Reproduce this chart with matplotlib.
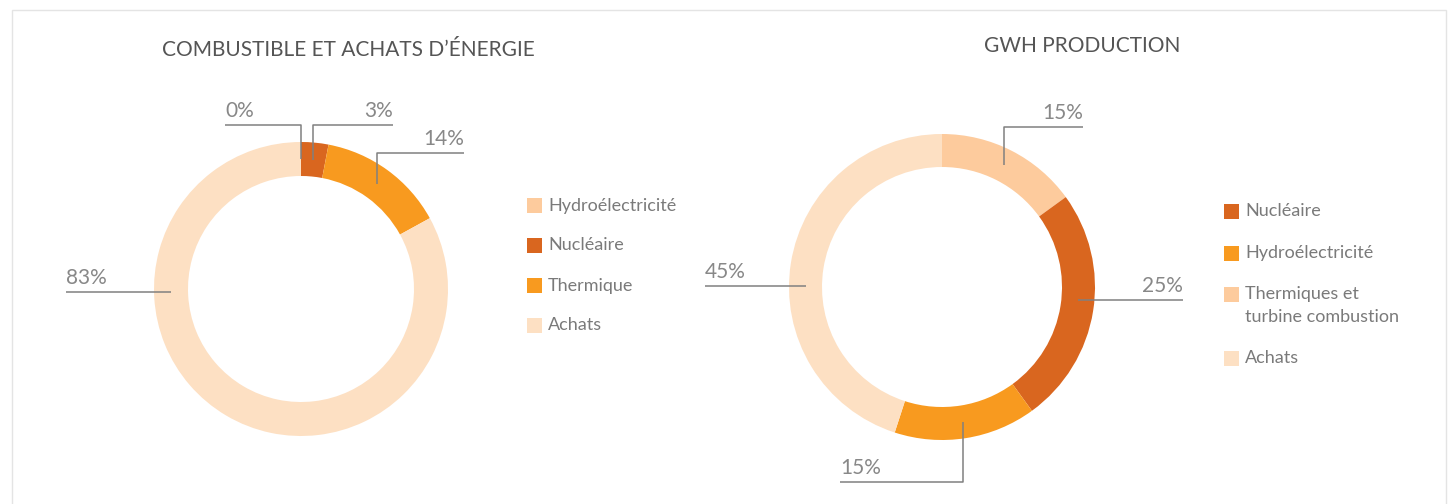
import matplotlib.pyplot as plt
from matplotlib.patches import Rectangle
import numpy as np

# ---- data ----
left_title = "COMBUSTIBLE ET ACHATS D’ÉNERGIE"
left_labels = ['Hydroélectricité', 'Nucléaire', 'Thermique', 'Achats']
left_values = [0, 3, 14, 83]
left_colors = ['#FDCB9D', '#D9661F', '#F89A1F', '#FDE0C3']

right_title = "GWH PRODUCTION"
right_labels = ['Thermiques et\nturbine combustion', 'Nucléaire', 'Hydroélectricité', 'Achats']
right_values = [15, 25, 15, 45]
right_colors = ['#FDCB9D', '#D9661F', '#F89A1F', '#FDE0C3']
right_legend_order = [1, 2, 0, 3]

GREY = '#7a7a7a'
FONT = 'Lato'

# figure in pixel units (1452 x 504), y axis goes up
W, H = 1452, 504
fig = plt.figure(figsize=(W / 100, H / 100), dpi=100)
ax = fig.add_axes([0, 0, 1, 1])

# light frame around the panel
fig.patches.append(Rectangle((12 / W, -0.1), (W - 18) / W, (H - 10) / H + 0.1,
                             transform=fig.transFigure, fill=False,
                             edgecolor='#e4e4e4', lw=1))


def donut(values, colors, center, radius, width):
    wedges, _ = ax.pie(values, colors=colors, startangle=90, counterclock=False,
                       radius=radius, center=center,
                       wedgeprops=dict(width=width, edgecolor='none'))
    return wedges


def callout(wedge, center, rmid, text, route):
    # route: ('v', elbow_y, end_x) or ('h', end_x, angle)
    if route[0] == 'h':
        ang = np.radians(route[2])
    else:
        ang = np.radians((wedge.theta1 + wedge.theta2) / 2)
    x0 = center[0] + rmid * np.cos(ang)
    y0 = center[1] + rmid * np.sin(ang)
    if route[0] == 'v':
        ey, ex = route[1], route[2]
        ax.plot([x0, x0, ex], [y0, ey, ey], color='#808080', lw=1.1, solid_capstyle='butt')
    else:
        ex, ey = route[1], y0
        ax.plot([x0, ex], [y0, ey], color='#808080', lw=1.1, solid_capstyle='butt')
    ha = 'left' if ex < x0 else 'right'
    ax.text(ex, ey + 4, text, ha=ha, va='bottom', fontsize=15, color='#888888',
            family=FONT)


def legend(labels, colors, order, x, y_top, step, line_h):
    y = y_top
    for i in order:
        ax.add_patch(Rectangle((x, y - 7.5), 15, 15, facecolor=colors[i], edgecolor='none'))
        lines = labels[i].split('\n')
        for k, ln in enumerate(lines):
            ax.text(x + 21, y - k * line_h, ln, ha='left', va='center', fontsize=13,
                    color=GREY, family=FONT)
        y -= step + (len(lines) - 1) * line_h


# ---- left chart ----
lc, lr, lw = (301, H - 289), 147, 34
lw_ = donut(left_values, left_colors, lc, lr, lw)
left_routes = [('v', H - 125, 225), ('v', H - 125, 393), ('v', H - 153, 464), ('h', 66, 181.3)]
for wdg, v, rt in zip(lw_, left_values, left_routes):
    callout(wdg, lc, lr - lw / 2, f'{v}%', rt)
ax.text(348, H - 50, left_title, ha='center', va='center', fontsize=15,
        color='#555555', family=FONT)
legend(left_labels, left_colors, range(4), 527, H - 205.5, 40, 22)

# ---- right chart ----
rc, rr, rw = (942, H - 287), 153, 33
rw_ = donut(right_values, right_colors, rc, rr, rw)
right_routes = [('v', H - 127, 1083), ('h', 1183, -5.5), ('v', H - 482, 840), ('h', 705, 179.6)]
for wdg, v, rt in zip(rw_, right_values, right_routes):
    callout(wdg, rc, rr - rw / 2, f'{v}%', rt)
ax.text(1082, H - 46, right_title, ha='center', va='center', fontsize=15,
        color='#555555', family=FONT)
legend(right_labels, right_colors, right_legend_order, 1224, H - 211.5, 41.5, 22)

ax.set_xlim(0, W)
ax.set_ylim(0, H)
ax.set_aspect('auto')
ax.axis('off')

fig.savefig('out.png', dpi=100, facecolor='white')
